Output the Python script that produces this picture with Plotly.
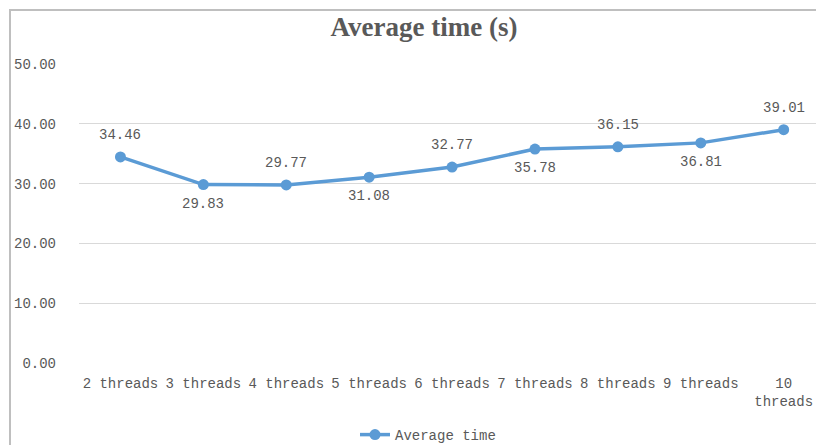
import plotly.graph_objects as go

# Thread counts and measured average run times (seconds)
categories = ["2 threads", "3 threads", "4 threads", "5 threads", "6 threads",
              "7 threads", "8 threads", "9 threads", "10<br>threads"]
avg_time = [34.46, 29.83, 29.77, 31.08, 32.77, 35.78, 36.15, 36.81, 39.01]
# Value labels alternate above / below the points
label_side = [1, -1, 1, -1, 1, -1, 1, -1, 1]
y_ticks = [0, 10, 20, 30, 40, 50]

LINE_BLUE = "#5b9bd5"
TEXT_GREY = "#595959"
MONO = "Liberation Mono, Courier New, monospace"

x_idx = list(range(len(categories)))

fig = go.Figure()
fig.add_trace(go.Scatter(
    x=x_idx, y=avg_time,
    mode="lines+markers",
    name="Average time",
    line=dict(color=LINE_BLUE, width=3.5),
    marker=dict(color=LINE_BLUE, size=11),
))

for xi, v, side in zip(x_idx, avg_time, label_side):
    fig.add_annotation(
        x=xi, y=v, text=f"{v:.2f}", showarrow=False,
        yshift=22 if side > 0 else -19,
        font=dict(family=MONO, size=14, color=TEXT_GREY),
    )

fig.update_layout(
    width=816, height=445,
    margin=dict(l=79, r=0, t=64, b=82, autoexpand=False),
    paper_bgcolor="white", plot_bgcolor="white",
    title=dict(
        text="<b>Average time (s)</b>",
        x=424 / 816, xanchor="center", xref="container",
        y=1 - 27 / 445, yanchor="middle", yref="container",
        font=dict(family="Liberation Serif, Times New Roman, serif",
                  size=27, color=TEXT_GREY),
    ),
    showlegend=True,
    legend=dict(
        orientation="h",
        x=(355 - 79) / 737, xanchor="left",
        y=(363 - 419) / 299, yanchor="top",
        font=dict(family=MONO, size=14, color=TEXT_GREY),
        bgcolor="rgba(0,0,0,0)",
    ),
    xaxis=dict(
        tickmode="array", tickvals=x_idx, ticktext=categories,
        range=[-0.5, 8.39],
        showgrid=False, zeroline=False, showline=False,
        ticks="", ticklabelstandoff=10,
        tickfont=dict(family=MONO, size=14, color=TEXT_GREY),
        fixedrange=True,
    ),
    yaxis=dict(
        range=[0, 50], tickvals=y_ticks, tickformat=".2f",
        showgrid=True, gridcolor="#d9d9d9", gridwidth=1,
        zeroline=False, showline=False,
        ticks="", ticklabelstandoff=22,
        tickfont=dict(family=MONO, size=14, color=TEXT_GREY),
        fixedrange=True,
    ),
    shapes=[dict(
        type="rect", xref="paper", yref="paper",
        x0=(10 - 79) / 737, x1=1.2,
        y0=-0.6, y1=(363 - 10) / 299,
        line=dict(color="#bfbfbf", width=2),
        fillcolor="rgba(0,0,0,0)", layer="below",
    )],
)

fig.write_html("out.html")
